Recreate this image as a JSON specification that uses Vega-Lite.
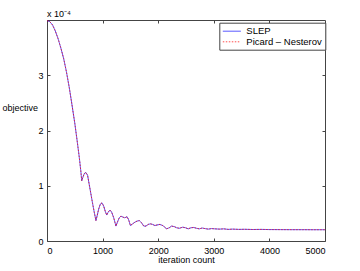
{
  "$schema": "https://vega.github.io/schema/vega-lite/v6.json",
  "width": 278,
  "height": 221,
  "autosize": "none",
  "padding": {"left": 47, "top": 20, "right": 35, "bottom": 30},
  "background": "white",
  "config": {
    "font": "Liberation Sans",
    "view": {"stroke": "#444", "strokeWidth": 1},
    "axis": {
      "grid": false,
      "domain": false,
      "tickColor": "#444",
      "tickSize": -3,
      "labelFont": "Liberation Sans",
      "labelFontSize": 9,
      "labelColor": "black",
      "titleFont": "Liberation Sans",
      "titleFontSize": 9,
      "titleFontWeight": "normal",
      "titleColor": "black"
    }
  },
  "title": {"text": "x 10⁻⁴", "anchor": "start", "frame": "group", "fontSize": 9, "fontWeight": "normal", "offset": 0, "color": "black", "font": "Liberation Sans"},
  "data": {
    "values": [
      {"iter": 0, "SLEP": 0.000399, "Picard": 0.000399},
      {"iter": 50, "SLEP": 0.000397, "Picard": 0.000397},
      {"iter": 100, "SLEP": 0.000391, "Picard": 0.000391},
      {"iter": 150, "SLEP": 0.000380, "Picard": 0.000380},
      {"iter": 200, "SLEP": 0.000366, "Picard": 0.000366},
      {"iter": 250, "SLEP": 0.000349, "Picard": 0.000349},
      {"iter": 300, "SLEP": 0.000330, "Picard": 0.000330},
      {"iter": 350, "SLEP": 0.000306, "Picard": 0.000306},
      {"iter": 400, "SLEP": 0.000278, "Picard": 0.000278},
      {"iter": 450, "SLEP": 0.000246, "Picard": 0.000246},
      {"iter": 500, "SLEP": 0.000213, "Picard": 0.000213},
      {"iter": 540, "SLEP": 0.000183, "Picard": 0.000183},
      {"iter": 580, "SLEP": 0.000152, "Picard": 0.000152},
      {"iter": 610, "SLEP": 0.000125, "Picard": 0.000125},
      {"iter": 625, "SLEP": 0.000109, "Picard": 0.000109},
      {"iter": 645, "SLEP": 0.000115, "Picard": 0.000115},
      {"iter": 670, "SLEP": 0.000122, "Picard": 0.000122},
      {"iter": 700, "SLEP": 0.000124, "Picard": 0.000124},
      {"iter": 730, "SLEP": 0.000119, "Picard": 0.000119},
      {"iter": 760, "SLEP": 0.000102, "Picard": 0.000102},
      {"iter": 790, "SLEP": 0.000085, "Picard": 0.000085},
      {"iter": 820, "SLEP": 0.000068, "Picard": 0.000068},
      {"iter": 850, "SLEP": 0.000052, "Picard": 0.000052},
      {"iter": 880, "SLEP": 0.000037, "Picard": 0.000037},
      {"iter": 900, "SLEP": 0.000045, "Picard": 0.000045},
      {"iter": 930, "SLEP": 0.000058, "Picard": 0.000058},
      {"iter": 960, "SLEP": 0.000067, "Picard": 0.000067},
      {"iter": 990, "SLEP": 0.000069, "Picard": 0.000069},
      {"iter": 1020, "SLEP": 0.000063, "Picard": 0.000063},
      {"iter": 1050, "SLEP": 0.000053, "Picard": 0.000053},
      {"iter": 1075, "SLEP": 0.000047, "Picard": 0.000047},
      {"iter": 1100, "SLEP": 0.000052, "Picard": 0.000052},
      {"iter": 1130, "SLEP": 0.000056, "Picard": 0.000056},
      {"iter": 1160, "SLEP": 0.000053, "Picard": 0.000053},
      {"iter": 1200, "SLEP": 0.000042, "Picard": 0.000042},
      {"iter": 1240, "SLEP": 0.000027, "Picard": 0.000027},
      {"iter": 1270, "SLEP": 0.000035, "Picard": 0.000035},
      {"iter": 1300, "SLEP": 0.000042, "Picard": 0.000042},
      {"iter": 1330, "SLEP": 0.000045, "Picard": 0.000045},
      {"iter": 1370, "SLEP": 0.000043, "Picard": 0.000043},
      {"iter": 1400, "SLEP": 0.000042, "Picard": 0.000042},
      {"iter": 1440, "SLEP": 0.000044, "Picard": 0.000044},
      {"iter": 1470, "SLEP": 0.000038, "Picard": 0.000038},
      {"iter": 1500, "SLEP": 0.000028, "Picard": 0.000028},
      {"iter": 1540, "SLEP": 0.000031, "Picard": 0.000031},
      {"iter": 1580, "SLEP": 0.000034, "Picard": 0.000034},
      {"iter": 1620, "SLEP": 0.000036, "Picard": 0.000036},
      {"iter": 1660, "SLEP": 0.000037, "Picard": 0.000037},
      {"iter": 1700, "SLEP": 0.000033, "Picard": 0.000033},
      {"iter": 1740, "SLEP": 0.000027, "Picard": 0.000027},
      {"iter": 1780, "SLEP": 0.000027, "Picard": 0.000027},
      {"iter": 1820, "SLEP": 0.000030, "Picard": 0.000030},
      {"iter": 1860, "SLEP": 0.000031, "Picard": 0.000031},
      {"iter": 1900, "SLEP": 0.000030, "Picard": 0.000030},
      {"iter": 1940, "SLEP": 0.000028, "Picard": 0.000028},
      {"iter": 1980, "SLEP": 0.000029, "Picard": 0.000029},
      {"iter": 2030, "SLEP": 0.000030, "Picard": 0.000030},
      {"iter": 2080, "SLEP": 0.000028, "Picard": 0.000028},
      {"iter": 2120, "SLEP": 0.000025, "Picard": 0.000025},
      {"iter": 2150, "SLEP": 0.000022, "Picard": 0.000022},
      {"iter": 2200, "SLEP": 0.000024, "Picard": 0.000024},
      {"iter": 2240, "SLEP": 0.000027, "Picard": 0.000027},
      {"iter": 2290, "SLEP": 0.000026, "Picard": 0.000026},
      {"iter": 2330, "SLEP": 0.000024, "Picard": 0.000024},
      {"iter": 2380, "SLEP": 0.000023, "Picard": 0.000023},
      {"iter": 2440, "SLEP": 0.000025, "Picard": 0.000025},
      {"iter": 2490, "SLEP": 0.000024, "Picard": 0.000024},
      {"iter": 2540, "SLEP": 0.000022, "Picard": 0.000022},
      {"iter": 2590, "SLEP": 0.000024, "Picard": 0.000024},
      {"iter": 2640, "SLEP": 0.0000245, "Picard": 0.0000245},
      {"iter": 2690, "SLEP": 0.000023, "Picard": 0.000023},
      {"iter": 2740, "SLEP": 0.000022, "Picard": 0.000022},
      {"iter": 2790, "SLEP": 0.0000235, "Picard": 0.0000235},
      {"iter": 2840, "SLEP": 0.0000225, "Picard": 0.0000225},
      {"iter": 2900, "SLEP": 0.0000215, "Picard": 0.0000215},
      {"iter": 2960, "SLEP": 0.0000225, "Picard": 0.0000225},
      {"iter": 3020, "SLEP": 0.000022, "Picard": 0.000022},
      {"iter": 3100, "SLEP": 0.0000215, "Picard": 0.0000215},
      {"iter": 3180, "SLEP": 0.000022, "Picard": 0.000022},
      {"iter": 3260, "SLEP": 0.000021, "Picard": 0.000021},
      {"iter": 3340, "SLEP": 0.0000215, "Picard": 0.0000215},
      {"iter": 3450, "SLEP": 0.000021, "Picard": 0.000021},
      {"iter": 3550, "SLEP": 0.0000212, "Picard": 0.0000212},
      {"iter": 3700, "SLEP": 0.0000208, "Picard": 0.0000208},
      {"iter": 3850, "SLEP": 0.000021, "Picard": 0.000021},
      {"iter": 4000, "SLEP": 0.0000207, "Picard": 0.0000207},
      {"iter": 4200, "SLEP": 0.0000206, "Picard": 0.0000206},
      {"iter": 4400, "SLEP": 0.0000205, "Picard": 0.0000205},
      {"iter": 4600, "SLEP": 0.0000205, "Picard": 0.0000205},
      {"iter": 4800, "SLEP": 0.0000204, "Picard": 0.0000204},
      {"iter": 5000, "SLEP": 0.0000204, "Picard": 0.0000204}
    ]
  },
  "transform": [{"fold": ["SLEP", "Picard"], "as": ["method", "value"]}],
  "layer": [
    {
      "mark": {"type": "line", "strokeWidth": 0.7},
      "encoding": {
        "x": {
          "field": "iter", "type": "quantitative",
          "scale": {"domain": [0, 5000], "nice": false},
          "axis": {"values": [0, 1000, 2000, 3000, 4000, 5000], "format": "d", "labelPadding": 8, "title": "iteration count", "titleY": 18, "titleBaseline": "middle"}
        },
        "y": {
          "field": "value", "type": "quantitative",
          "scale": {"domain": [0, 0.0004], "nice": false},
          "axis": {"values": [0, 0.0001, 0.0002, 0.0003], "labelExpr": "round(datum.value*10000)", "labelPadding": 7, "title": "objective", "titleAngle": 0, "titleAlign": "left", "titleX": -45, "titleY": 87, "titleBaseline": "middle"}
        },
        "color": {
          "field": "method", "type": "nominal",
          "scale": {"domain": ["SLEP", "Picard"], "range": ["#0000ff", "#ff0000"]},
          "legend": {"title": null, "orient": "none", "legendX": 172.3, "legendY": 2.7, "symbolType": "M-1,0H2.6", "symbolStrokeWidth": 0.7, "symbolSize": 100, "labelFontSize": 9.5, "labelFont": "Liberation Sans", "labelColor": "black", "labelExpr": "datum.label == 'SLEP' ? 'SLEP' : 'Picard – Nesterov'", "strokeColor": "#444", "fillColor": "white", "padding": 3, "rowPadding": 0.6, "labelOffset": 13}
        },
        "strokeDash": {
          "field": "method", "type": "nominal",
          "scale": {"domain": ["SLEP", "Picard"], "range": [[1, 0], [1.5, 1.5]]},
          "legend": {"title": null, "orient": "none", "legendX": 172.3, "legendY": 2.7, "symbolType": "M-1,0H2.6", "symbolStrokeWidth": 0.7, "symbolSize": 100, "labelFontSize": 9.5, "labelFont": "Liberation Sans", "labelColor": "black", "labelExpr": "datum.label == 'SLEP' ? 'SLEP' : 'Picard – Nesterov'", "strokeColor": "#444", "fillColor": "white", "padding": 3, "rowPadding": 0.6, "labelOffset": 13}
        }
      }
    },
    {
      "mark": {"type": "line", "opacity": 0},
      "encoding": {
        "x": {"field": "iter", "type": "quantitative", "axis": {"orient": "top", "labels": false, "title": null, "values": [1000, 2000, 3000, 4000]}},
        "y": {"field": "value", "type": "quantitative", "axis": {"orient": "right", "labels": false, "title": null, "values": [0.0001, 0.0002, 0.0003]}},
        "detail": {"field": "method"}
      }
    }
  ],
  "resolve": {"axis": {"x": "independent", "y": "independent"}}
}
